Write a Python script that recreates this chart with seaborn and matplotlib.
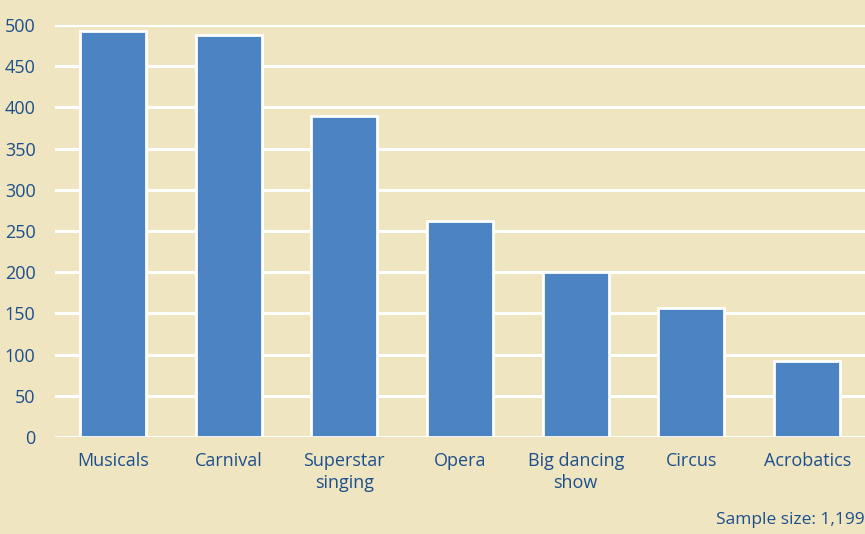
import matplotlib
matplotlib.use('Agg')
import matplotlib.pyplot as plt
import pandas as pd
import seaborn as sns

CATEGORIES = ['Musicals', 'Carnival', 'Superstar\nsinging', 'Opera',
              'Big dancing\nshow', 'Circus', 'Acrobatics']
COUNTS = [493, 488, 389, 262, 200, 157, 92]
Y_TICKS = list(range(0, 501, 50))
NOTE = 'Sample size: 1,199'

BG = '#EFE5C1'
BAR = '#4C84C3'
TXT = '#1D4F8C'

sns.set_theme(style='white')
plt.rcParams['font.family'] = ['Open Sans', 'DejaVu Sans']

df = pd.DataFrame({'category': CATEGORIES, 'count': COUNTS})

fig = plt.figure(figsize=(8.65, 5.34), dpi=100, facecolor=BG)
ax = fig.add_axes([55 / 865, 97 / 534, 810 / 865, 412 / 534])
ax.set_facecolor(BG)

sns.barplot(data=df, x='category', y='count', color=BAR, saturation=1,
            width=0.57, edgecolor='white', linewidth=2, ax=ax, zorder=3)

ax.set_ylim(0, 500)
ax.set_xlim(-0.5, len(CATEGORIES) - 0.5)
ax.set_yticks(Y_TICKS)
ax.yaxis.grid(True, color='white', linewidth=2.2, zorder=0)
ax.set_axisbelow(True)
for s in ax.spines.values():
    s.set_visible(False)
ax.tick_params(axis='both', length=0, labelsize=13, labelcolor=TXT)
ax.tick_params(axis='y', pad=14)
ax.tick_params(axis='x', pad=11)
ax.set_xlabel('')
ax.set_ylabel('')
for lbl in ax.get_xticklabels():
    lbl.set_linespacing(1.3)

fig.text(1.0, 1 - 520 / 534, NOTE, ha='right', va='center', fontsize=12.5,
         color=TXT)

fig.savefig('out.png', dpi=100, facecolor=BG)
